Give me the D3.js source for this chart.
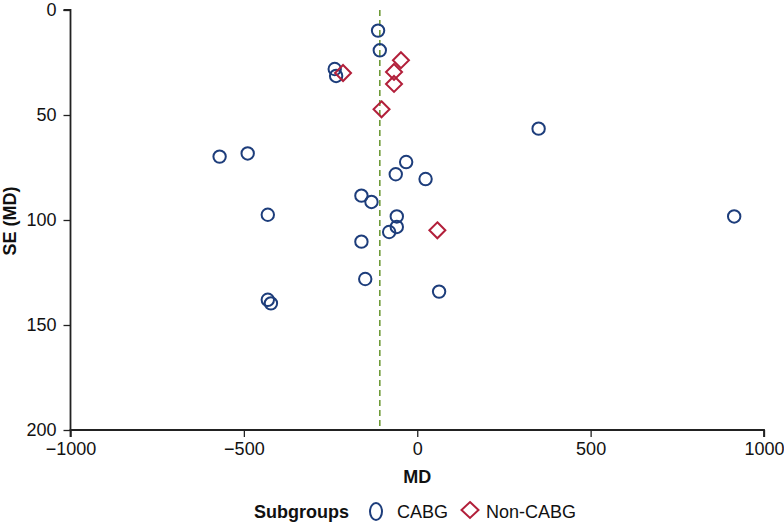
<!DOCTYPE html>
<html><head><meta charset="utf-8">
<script src="https://cdn.jsdelivr.net/npm/d3@7"></script>
<style>body{margin:0;background:#fff;}svg{display:block;font-family:"Liberation Sans",Arial,Helvetica,sans-serif;}</style>
</head><body><svg id="c" width="784" height="524"></svg>
<script>
const cabgMD = [-113,-108,-238,-234,-570,-489,-32,-62,24,-161,-132,-431,-59,-59,-81,-161,-150,63,-431,-422,350,914];
const cabgSE = [9.8,19.2,28.1,31.4,69.8,68.3,72.4,78.2,80.5,88.4,91.4,97.5,98.3,103.3,105.7,110.3,128.1,134.1,138,139.7,56.5,98.3];
const nonMD = [-214,-47,-67,-67,-103,58];
const nonSE = [30,23.9,29.5,35.2,47.3,104.9];
const pooledMD = -108;
const xTicks = [-1000,-500,0,500,1000];
const yTicks = [0,50,100,150,200];
const legendLabels = ["CABG","Non-CABG"];

const svg = d3.select("#c");
const x = d3.scaleLinear().domain([-1000,1000]).range([70.5,764]);
const y = d3.scaleLinear().domain([0,200]).range([10,430]);
const navy = "#1d3d7b", red = "#b21f3a", green = "#6e9a36", axisC = "#222";
const fs = "18px";

// dashed pooled line
svg.append("line").attr("x1",x(pooledMD)).attr("x2",x(pooledMD)).attr("y1",y(0)).attr("y2",y(200))
  .attr("stroke",green).attr("stroke-width",1.6).attr("stroke-dasharray","6,4");

// axes
const yAxis = d3.axisLeft(y).tickValues(yTicks).tickSize(7).tickPadding(7);
const xAxis = d3.axisBottom(x).tickValues(xTicks).tickSize(7).tickPadding(5).tickFormat(d=>d<0?"\u2212"+Math.abs(d):d);
const gy = svg.append("g").attr("transform",`translate(${x(-1000)},0)`).call(yAxis);
const gx = svg.append("g").attr("transform",`translate(0,${y(200)})`).call(xAxis);
[gx,gy].forEach(g=>{
  g.select(".domain").attr("stroke",axisC).attr("stroke-width",1.8);
  g.selectAll(".tick line").attr("stroke",axisC).attr("stroke-width",1.3);
  g.selectAll(".tick text").attr("fill","#111").style("font-size",fs);
});
gy.select(".domain").attr("d",`M-7,${y(0)}H0V${y(200)}`);
gx.select(".domain").attr("d",`M${x(-1000)},7V0H${x(1000)}V7`);

// titles
svg.append("text").attr("x",x(0)).attr("y",483).attr("text-anchor","middle")
  .style("font-weight","bold").style("font-size",fs).attr("fill","#111").text("MD");
svg.append("text").attr("transform",`translate(15.5,${y(100)+1}) rotate(-90)`).attr("text-anchor","middle")
  .style("font-weight","bold").style("font-size",fs).attr("fill","#111").text("SE (MD)");

// points
const diamond = s => `M0,${-s}L${s},0L0,${s}L${-s},0Z`;
svg.append("g").selectAll("circle").data(d3.range(cabgMD.length)).join("circle")
  .attr("cx",i=>x(cabgMD[i])).attr("cy",i=>y(cabgSE[i])).attr("r",6.2)
  .attr("fill","none").attr("stroke",navy).attr("stroke-width",2);
svg.append("g").selectAll("path").data(d3.range(nonMD.length)).join("path")
  .attr("transform",i=>`translate(${x(nonMD[i])},${y(nonSE[i])})`).attr("d",diamond(8))
  .attr("fill","none").attr("stroke",red).attr("stroke-width",2);

// legend
const lg = svg.append("g");
lg.append("text").attr("x",254).attr("y",518).style("font-weight","bold").style("font-size",fs).attr("fill","#111").text("Subgroups");
lg.append("ellipse").attr("cx",376).attr("cy",511.5).attr("rx",6).attr("ry",8.5).attr("fill","none").attr("stroke",navy).attr("stroke-width",2);
lg.append("text").attr("x",397).attr("y",518).style("font-size",fs).attr("fill","#111").text(legendLabels[0]);
lg.append("path").attr("transform","translate(470,510)").attr("d",`M0,-8L8.5,0L0,8L-8.5,0Z`).attr("fill","none").attr("stroke",red).attr("stroke-width",2);
lg.append("text").attr("x",486).attr("y",518).style("font-size",fs).attr("fill","#111").text(legendLabels[1]);
</script></body></html>
